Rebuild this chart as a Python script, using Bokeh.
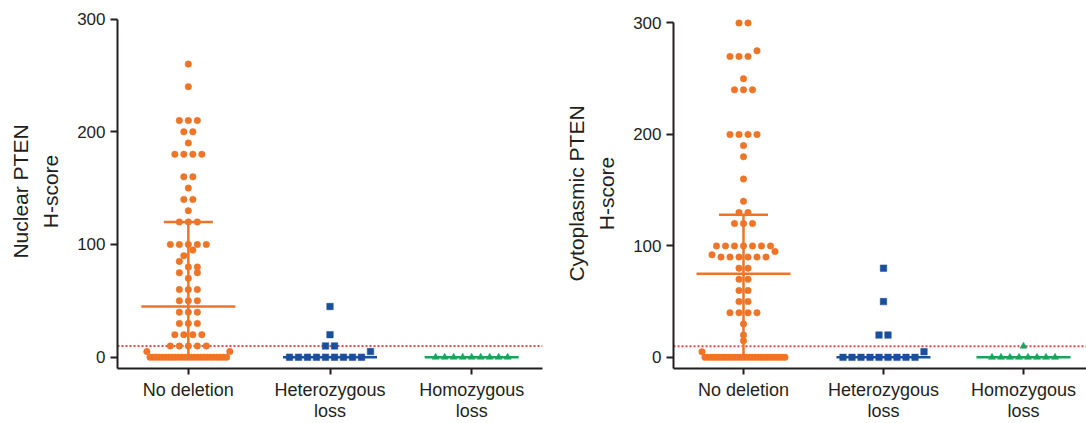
import numpy as np
from bokeh.plotting import figure
from bokeh.layouts import row
from bokeh.models import Range1d, Span, FixedTicker
from bokeh.embed import file_html
from bokeh.resources import INLINE

# ---------------- data ----------------
categories = ["No deletion", "Heterozygous\nloss", "Homozygous\nloss"]

nuc_no_deletion = [260, 240, 210, 210, 210, 200, 200, 190, 180, 180, 180, 180,
                   160, 160, 150, 140, 140, 130, 120, 120, 120,
                   100, 100, 100, 100, 100, 95, 90, 85, 80, 80, 75, 75, 70,
                   60, 60, 60, 50, 50, 50, 40, 40, 40, 30, 30, 30,
                   20, 20, 20, 20, 10, 10, 10, 10, 10, 5, 5] + [0] * 25
nuc_het_loss = [45, 20, 10, 10, 5, 0, 0, 0, 0, 0, 0, 0, 0, 0]
nuc_hom_loss = [0, 0, 0, 0, 0, 0, 0, 0, 0]
nuc_center = [45, 0, 0]
nuc_upper = [120, None, None]

cyt_no_deletion = [300, 300, 275, 270, 270, 270, 250, 240, 240, 240,
                   200, 200, 200, 200, 190, 180, 160, 140, 130, 130,
                   120, 120, 120, 100, 100, 100, 100, 100, 100, 100,
                   95, 92, 90, 90, 90, 90, 90, 90, 80, 80, 70, 70, 60, 60,
                   50, 50, 40, 40, 40, 40, 30, 20, 15, 5] + [0] * 28
cyt_het_loss = [80, 50, 20, 20, 5, 0, 0, 0, 0, 0, 0, 0, 0, 0]
cyt_hom_loss = [10, 0, 0, 0, 0, 0, 0, 0, 0]
cyt_center = [75, 0, 0]
cyt_upper = [128, None, None]

threshold = 10
y_ticks = [0, 100, 200, 300]

# ---------------- style ----------------
ORANGE = "#EE7427"
BLUE = "#1A4F9C"
GREEN = "#1BA35B"
RED = "#E8474A"
AXIS = "#231F20"
FONT = "Liberation Sans"


def swarm(values, center, px_per_x, d_px=9.0, max_span_px=83.0, bin_w=10):
    vals = sorted(values)
    bins = {}
    for v in vals:
        bins.setdefault(int(v // bin_w), []).append(v)
    xs, ys = [], []
    for b, vs in bins.items():
        n = len(vs)
        step = d_px if n == 1 else min(d_px, max_span_px / (n - 1))
        if n % 2 == 1:
            order = [0]
            for k in range(1, n // 2 + 1):
                order += [k, -k]
        else:
            order = []
            for k in range(n // 2):
                order += [-(k + 0.5), k + 0.5]
        for v, o in zip(vs, order):
            xs.append(center + o * step / px_per_x)
            ys.append(v)
    return xs, ys


def make_panel(ylabel, groups, centers, uppers, frame_w, frame_h, x_end,
               b_left, b_right, b_top, b_bottom):
    p = figure(width=b_left + frame_w + b_right, height=b_top + frame_h + b_bottom,
               x_range=Range1d(0.5, x_end), y_range=Range1d(-10, 304),
               output_backend="svg", toolbar_location=None,
               min_border_left=b_left, min_border_right=b_right,
               min_border_top=b_top, min_border_bottom=b_bottom)
    p.frame_align = False
    p.outline_line_color = None
    p.xgrid.visible = False
    p.ygrid.visible = False
    p.background_fill_color = "white"
    p.border_fill_color = "white"

    pxx = frame_w / (x_end - 0.5)

    # threshold
    p.add_layout(Span(location=threshold, dimension="width", line_color=RED,
                      line_dash="2 2", line_width=2, level="underlay"))

    half = 47.0 / pxx
    cap = 24.5 / pxx
    colors = [ORANGE, BLUE, GREEN]
    markers = ["circle", "square", "triangle"]
    sizes = [6.5, 6.5, 7]
    for i, (vals, c, m, s) in enumerate(zip(groups, colors, markers, sizes)):
        cx = i + 1
        xs, ys = swarm(vals, cx, pxx)
        p.scatter(xs, ys, marker=m, size=s, fill_color=c, line_color=c, line_width=0.5)
        p.segment(x0=[cx - half], y0=[centers[i]], x1=[cx + half], y1=[centers[i]],
                  line_color=c, line_width=2.5)
        if uppers[i] is not None:
            p.segment(x0=[cx], y0=[0], x1=[cx], y1=[uppers[i]], line_color=c, line_width=2.5)
            p.segment(x0=[cx - cap], y0=[uppers[i]], x1=[cx + cap], y1=[uppers[i]],
                      line_color=c, line_width=2.5)

    # axes
    for ax in (p.xaxis[0], p.yaxis[0]):
        ax.axis_line_color = AXIS
        ax.axis_line_width = 2
        ax.major_tick_line_color = AXIS
        ax.major_tick_line_width = 2
        ax.major_tick_out = 7
        ax.major_tick_in = 0
        ax.minor_tick_line_color = None
        ax.major_label_text_font = FONT
        ax.major_label_text_color = AXIS
    p.yaxis.ticker = FixedTicker(ticks=y_ticks)
    p.yaxis.bounds = (-10, 300)
    p.yaxis.major_label_text_font_size = "17px"
    p.yaxis.major_label_standoff = 5
    p.yaxis.axis_label = ylabel
    p.yaxis.axis_label_text_font = FONT
    p.yaxis.axis_label_text_font_size = "21px"
    p.yaxis.axis_label_text_font_style = "normal"
    p.yaxis.axis_label_text_color = AXIS
    p.yaxis.axis_label_text_line_height = 1.33
    p.yaxis.axis_label_standoff = 12

    p.xaxis.ticker = FixedTicker(ticks=[1, 2, 3])
    p.xaxis.major_label_overrides = {1: categories[0], 2: categories[1], 3: categories[2]}
    p.xaxis.major_label_text_font_size = "18px"
    p.xaxis.major_label_text_line_height = 1.06
    p.xaxis.major_label_standoff = 5
    p.xaxis.major_tick_out = 6
    return p


p1 = make_panel("Nuclear PTEN\nH-score", [nuc_no_deletion, nuc_het_loss, nuc_hom_loss],
                nuc_center, nuc_upper, frame_w=425, frame_h=354, x_end=3.5,
                b_left=117, b_right=6, b_top=14, b_bottom=55)
p2 = make_panel("Cytoplasmic PTEN\nH-score", [cyt_no_deletion, cyt_het_loss, cyt_hom_loss],
                cyt_center, cyt_upper, frame_w=413, frame_h=350, x_end=0.5 + 413 / 140.0,
                b_left=125, b_right=0, b_top=18, b_bottom=55)

p = row(p1, p2)
open("out.html", "w").write(file_html(p, INLINE))
